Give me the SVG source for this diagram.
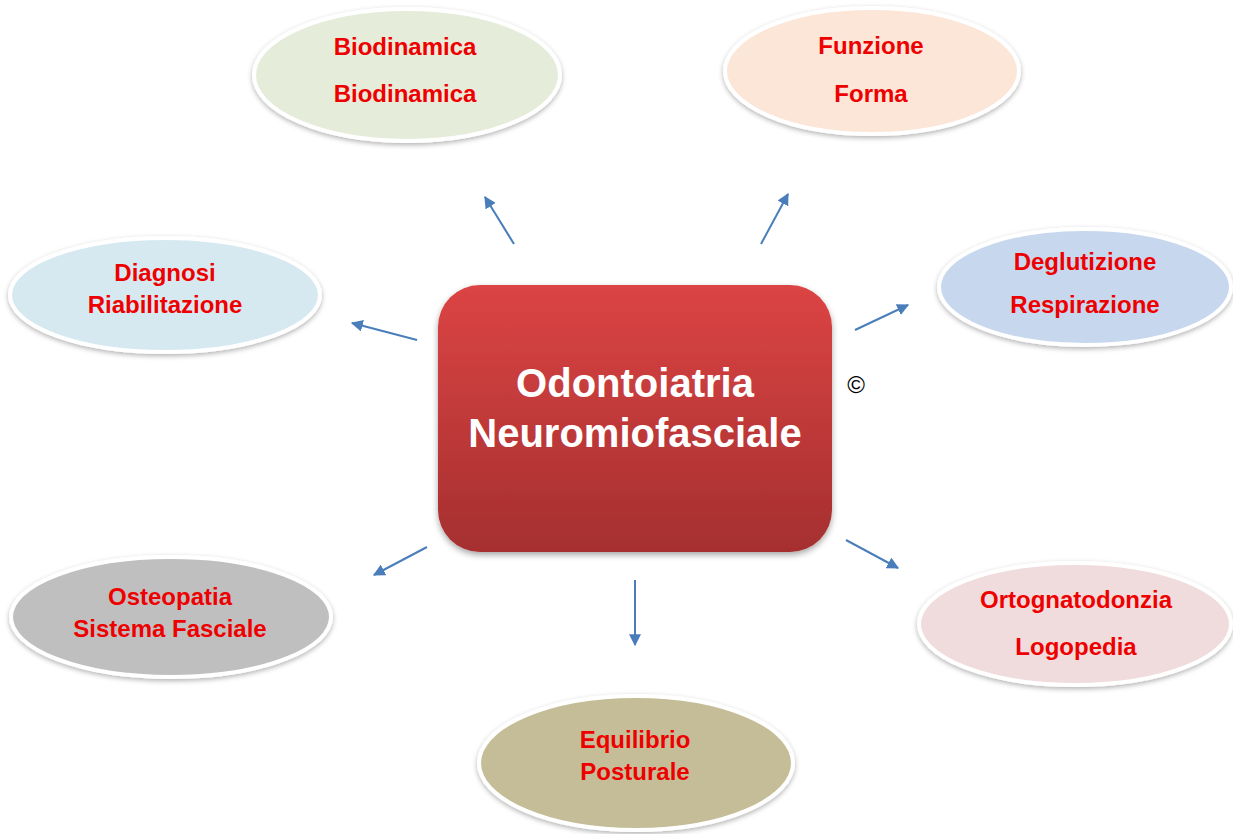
<svg xmlns="http://www.w3.org/2000/svg" width="1233" height="834" viewBox="0 0 1233 834">
<defs>
<style>
.el{stroke:#ffffff;stroke-width:4;filter:url(#sh)}
.t{font-family:"Liberation Sans",Arial,sans-serif;font-weight:bold;font-size:24px;fill:#ee0000;text-anchor:middle}
.ct{font-family:"Liberation Sans",Arial,sans-serif;font-weight:bold;font-size:40px;fill:#ffffff;text-anchor:middle}
.ar{stroke:#4a7ebb;stroke-width:2;fill:none;marker-end:url(#ah)}
</style>
<filter id="sh" x="-10%" y="-15%" width="120%" height="135%">
<feDropShadow dx="0" dy="2" stdDeviation="2.5" flood-color="#000" flood-opacity="0.3"/>
</filter>
<filter id="sh2" x="-10%" y="-10%" width="120%" height="125%">
<feDropShadow dx="0" dy="3" stdDeviation="3" flood-color="#000" flood-opacity="0.35"/>
</filter>
<linearGradient id="rg" x1="0" y1="0" x2="0" y2="1">
<stop offset="0" stop-color="#dc4444"/>
<stop offset="1" stop-color="#a52f2f"/>
</linearGradient>
<marker id="ah" viewBox="0 0 10 10" refX="9" refY="5" markerWidth="6" markerHeight="6" orient="auto" markerUnits="strokeWidth">
<path d="M0,0 L10,5 L0,10 z" fill="#4a7ebb"/>
</marker>
</defs>
<rect width="1233" height="834" fill="#ffffff"/>
<g id="connectors">
<line class="ar" x1="514" y1="244" x2="485" y2="197"/>
<line class="ar" x1="761" y1="244" x2="788" y2="194"/>
<line class="ar" x1="855" y1="330" x2="908" y2="305"/>
<line class="ar" x1="417" y1="340" x2="352" y2="323"/>
<line class="ar" x1="427" y1="547" x2="374" y2="575"/>
<line class="ar" x1="635" y1="580" x2="635" y2="645"/>
<line class="ar" x1="846" y1="540" x2="898" y2="568"/>
</g>
<g id="center">
<rect x="438" y="285" width="394" height="267" rx="42" fill="url(#rg)" filter="url(#sh2)"/>
<text class="ct" x="635" y="397">Odontoiatria</text>
<text class="ct" x="635" y="447">Neuromiofasciale</text>
</g>
<g id="copyright"><text x="856" y="393" font-family="Liberation Sans,Arial,sans-serif" font-size="24" fill="#000" text-anchor="middle">©</text></g>
<g id="n-biodinamica">
<ellipse class="el" cx="407" cy="75" rx="153" ry="66" fill="#e6ecda"/>
<text class="t" x="405" y="55">Biodinamica</text>
<text class="t" x="405" y="102">Biodinamica</text>
</g>
<g id="n-funzione">
<ellipse class="el" cx="872" cy="71" rx="147" ry="63" fill="#fbe6d7"/>
<text class="t" x="871" y="54">Funzione</text>
<text class="t" x="871" y="102">Forma</text>
</g>
<g id="n-deglutizione">
<ellipse class="el" cx="1085" cy="287" rx="146" ry="58" fill="#c7d7ee"/>
<text class="t" x="1085" y="270">Deglutizione</text>
<text class="t" x="1085" y="313">Respirazione</text>
</g>
<g id="n-diagnosi">
<ellipse class="el" cx="165" cy="295" rx="155" ry="57" fill="#d6e9f1"/>
<text class="t" x="165" y="281">Diagnosi</text>
<text class="t" x="165" y="313">Riabilitazione</text>
</g>
<g id="n-osteopatia">
<ellipse class="el" cx="171" cy="617" rx="160" ry="60" fill="#bfbfbf"/>
<text class="t" x="170" y="605">Osteopatia</text>
<text class="t" x="170" y="637">Sistema Fasciale</text>
</g>
<g id="n-ortognatodonzia">
<ellipse class="el" cx="1075" cy="624" rx="156" ry="61" fill="#f0dcdc"/>
<text class="t" x="1076" y="608">Ortognatodonzia</text>
<text class="t" x="1076" y="655">Logopedia</text>
</g>
<g id="n-equilibrio">
<ellipse class="el" cx="636" cy="763" rx="157" ry="67" fill="#c4bd97"/>
<text class="t" x="635" y="748">Equilibrio</text>
<text class="t" x="635" y="780">Posturale</text>
</g>
</svg>
